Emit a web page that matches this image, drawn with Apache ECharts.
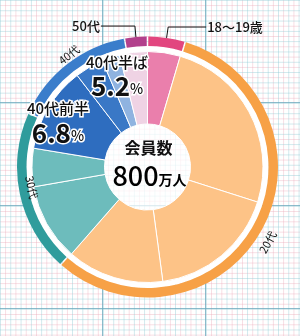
<!DOCTYPE html>
<html><head><meta charset="utf-8">
<script src="https://cdn.jsdelivr.net/npm/echarts@6/dist/echarts.min.js"></script>
<style>
html,body{margin:0;padding:0;background:#fff;}
#c{width:300px;height:336px;
background-color:#fff;
background-image:
 linear-gradient(to right, rgba(110,170,190,0.8) 1px, transparent 1px),
 linear-gradient(to bottom, rgba(110,170,190,0.8) 1px, transparent 1px),
 linear-gradient(to right, rgba(150,205,215,0.45) 1px, transparent 1px),
 linear-gradient(to bottom, rgba(150,205,215,0.45) 1px, transparent 1px),
 linear-gradient(to right, rgba(235,170,185,0.4) 1px, transparent 1px),
 linear-gradient(to bottom, rgba(235,170,185,0.4) 1px, transparent 1px);
background-size:103px 103px,103px 103px,10.3px 10.3px,10.3px 10.3px,10.3px 10.3px,10.3px 10.3px;
background-position:102px 0,0 102px,0 0,0 0,5.15px 0,0 5.15px;
}
</style></head>
<body><div id="c"></div>
<script>
const ringNames = ['18〜19歳', '20代', '30代', '40代', '50代'];
const ringValues = [4.67, 56.9, 20.2, 15.4, 2.83];
const ringColors = ['#e2467f', '#f7a146', '#2f9c9c', '#3a7dcb', '#b2408c'];

const innerNames = ['18〜19歳', '20代前半', '20代半ば', '20代後半', '30代前半', '30代後半', '40代前半', '40代半ば', '40代後半', '50代'];
const innerValues = [4.58, 25.33, 17.97, 13.56, 10.81, 5.36, 11.97, 4.03, 2.5, 3.89];
const innerColors = ['#ea7fac', '#fdc387', '#fdc387', '#fdc387', '#6dbcbc', '#6dbcbc', '#2e6dbf', '#3a78c6', '#8fb3e0', '#efd3e4'];
const innerLabelPct = ['', '', '', '', '', '', '6.8', '5.2', '', ''];

const totalTitle = '会員数';
const totalValue = '800';
const totalUnit = '万人';

const CX = 147.5, CY = 167;
const FONT = '"Noto Sans CJK JP", "Noto Sans", sans-serif';

const chart = echarts.init(document.getElementById('c'), null, {renderer: 'canvas'});

const outsideLine = {0: [11, 38], 4: [11, 34]};

const ringData = ringNames.map((n, i) => {
  const ol = outsideLine[i];
  return {
    name: n, value: ringValues[i],
    itemStyle: {color: ringColors[i]},
    label: ol ? {show: true, position: 'outside', fontSize: 13, color: '#111', fontWeight: 500, distanceToLabelLine: 1}
              : {show: true, position: 'inside', rotate: 'tangential', fontSize: 11, color: '#111'},
    labelLine: ol ? {show: true, length: ol[0], length2: ol[1]} : {show: false}
  };
});

const innerData = innerNames.map((n, i) => ({
  name: n, value: innerValues[i],
  itemStyle: {color: innerColors[i]},
  label: {show: innerLabelPct[i] !== ''}
}));

const innerShift = {6: [-19, -3], 7: [11, -21]};
const ringShift = {1: [-7, 13], 2: [-4, -11], 3: [7, -8]};

chart.setOption({
  animation: false,
  graphic: [
    {type: 'ring', shape: {cx: CX, cy: CY, r: 121, r0: 114}, style: {fill: '#fff'}, z: 0, silent: true},
    {type: 'circle', shape: {cx: CX, cy: CY, r: 43}, style: {fill: 'rgba(255,255,255,0.72)'}, z: 0, silent: true},
    {type: 'text', z: 10, style: {text: totalTitle, x: CX + 1, y: CY - 19, align: 'center', verticalAlign: 'middle', font: 'bold 16px ' + FONT, fill: '#111'}},
    {type: 'text', z: 10, style: {text: '{a|' + totalValue + '}{b|' + totalUnit + '}', x: CX + 2, y: CY + 9, align: 'center', verticalAlign: 'middle',
      rich: {a: {fontSize: 27, fontFamily: FONT, fontWeight: 500, color: '#111'}, b: {fontSize: 14, fontFamily: FONT, fontWeight: 'bold', color: '#111', padding: [8, 0, 0, 0]}}}}
  ],
  series: [
    {
      type: 'pie', center: [CX, CY], radius: [43, 115.5], startAngle: 90, clockwise: true,
      avoidLabelOverlap: false,
      itemStyle: {borderColor: '#fff', borderWidth: 1},
      label: {
        position: 'inside',
        formatter: p => '{n|' + p.name + '}\n{v|' + innerLabelPct[p.dataIndex] + '}{p|%}',
        rich: {
          n: {fontSize: 15, fontFamily: FONT, fontWeight: 500, color: '#111', textBorderColor: '#fff', textBorderWidth: 3, lineHeight: 22, align: 'center'},
          v: {fontSize: 26, fontFamily: FONT, fontWeight: 'bold', color: '#111', textBorderColor: '#fff', textBorderWidth: 3, lineHeight: 26},
          p: {fontSize: 14, fontFamily: FONT, fontWeight: 500, color: '#111', textBorderColor: '#fff', textBorderWidth: 3, padding: [6, 0, 0, 0]}
        }
      },
      labelLayout: p => {
        const s = innerShift[p.dataIndex];
        return s ? {dx: s[0], dy: s[1]} : {};
      },
      emphasis: {disabled: true},
      data: innerData
    },
    {
      type: 'pie', center: [CX, CY], radius: [121, 130.5], startAngle: 90, clockwise: true,
      padAngle: 0.7,
      avoidLabelOverlap: false,
      label: {fontFamily: FONT},
      labelLine: {smooth: false, lineStyle: {color: '#111', width: 1}},
      labelLayout: p => {
        const s = ringShift[p.dataIndex];
        return s ? {dx: s[0], dy: s[1]} : {};
      },
      emphasis: {disabled: true},
      data: ringData
    }
  ]
});
</script></body></html>
